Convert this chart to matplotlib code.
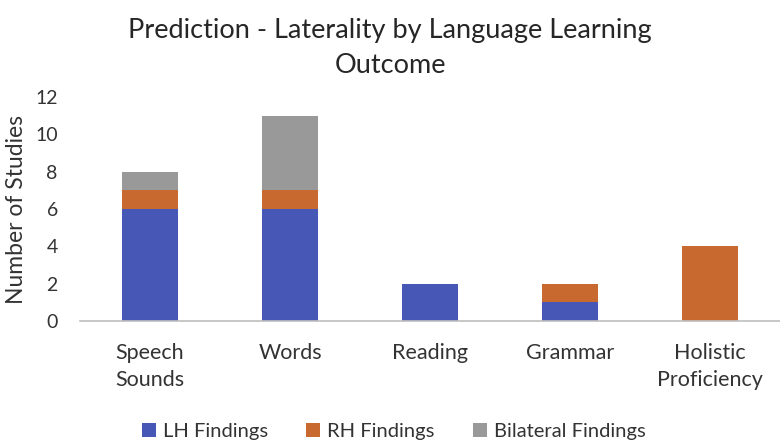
import matplotlib
matplotlib.use("Agg")
import matplotlib.pyplot as plt
import numpy as np

plt.rcParams['font.family'] = ['Lato', 'DejaVu Sans']

categories = ["Speech\nSounds", "Words", "Reading", "Grammar", "Holistic\nProficiency"]
lh = [6, 6, 2, 1, 0]
rh = [1, 1, 0, 1, 4]
bilateral = [1, 4, 0, 0, 0]

fig = plt.figure(figsize=(7.8, 4.4), dpi=100)
ax = fig.add_axes([0.1026, 0.2705, 0.8974, 0.509])

x = np.arange(len(categories))
w = 0.4
b1 = ax.bar(x, lh, w, color="#4657B5", label="LH Findings")
b2 = ax.bar(x, rh, w, bottom=lh, color="#C8692F", label="RH Findings")
bottom2 = [a + b for a, b in zip(lh, rh)]
b3 = ax.bar(x, bilateral, w, bottom=bottom2, color="#999999", label="Bilateral Findings")

ax.set_xlim(-0.5, 4.5)
ax.set_ylim(0, 12)
ax.set_yticks(range(0, 13, 2))
ax.set_xticks(x)
ax.set_xticklabels(categories, fontsize=15.5, color="#333333", linespacing=1.45)
ax.tick_params(axis='y', labelsize=14, colors="#333333", length=0, pad=16)
ax.tick_params(axis='x', length=0, pad=16)
for s in ["top", "right", "left"]:
    ax.spines[s].set_visible(False)
ax.spines["bottom"].set_color("#BFBFBF")
ax.spines["bottom"].set_linewidth(1.2)

ax.set_ylabel("Number of Studies", fontsize=16.5, color="#333333", labelpad=6)
fig.suptitle("Prediction - Laterality by Language Learning\nOutcome", fontsize=19.5,
             color="#262626", y=0.96, linespacing=1.5)

fig.legend(handles=[b1, b2, b3], loc="lower center", bbox_to_anchor=(0.505, -0.042),
           ncol=3, frameon=False, fontsize=14.5, handlelength=0.7, handleheight=0.7,
           columnspacing=1.9, handletextpad=0.35, labelcolor="#333333")

fig.savefig("out.png", dpi=100)
